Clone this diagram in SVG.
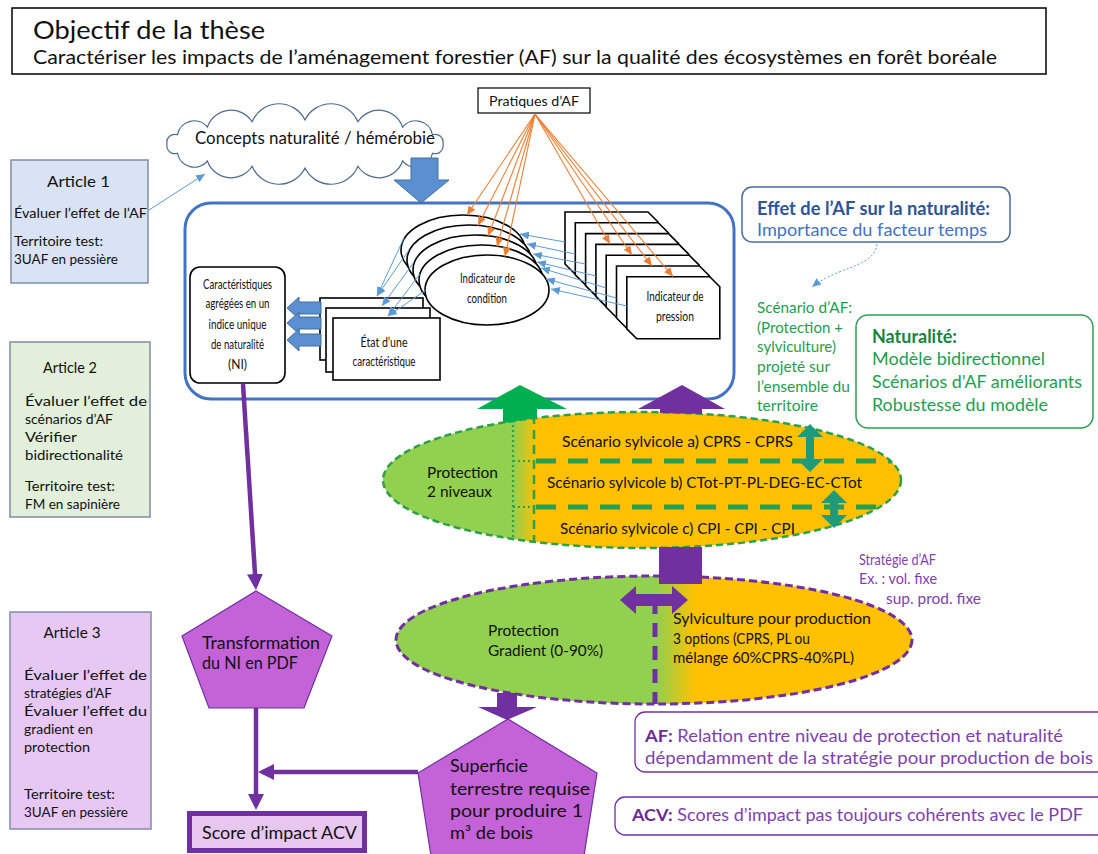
<svg xmlns="http://www.w3.org/2000/svg" width="1098" height="854" viewBox="0 0 1098 854">
<style>
text{font-family:Lato,"Liberation Sans","DejaVu Sans",sans-serif;fill:#111}
.bk{fill:#fff;stroke:#000;stroke-width:1.6}
.art{stroke:#7F8FA6;stroke-width:1.5}
.a{font-size:14px}
.ah{font-size:15px}
.c{font-size:14px}
.bluet{fill:#4472C4;font-size:18px}
.blueb{fill:#2F5597;font-weight:bold}
.grn text{fill:#1E9E50;font-size:15px}
.nat{fill:#1E9E50;font-size:18px}
.natb{fill:#17843F;font-weight:bold}
.pur text{fill:#7F3FAF;font-size:17px}
.purb{fill:#6A2C95;font-weight:bold}
.or{stroke:#ED7D31;stroke-width:1.1;fill:none;marker-end:url(#mO)}
.bl{stroke:#5B9BD5;stroke-width:1;fill:none;marker-end:url(#mB)}
.pl{stroke:#7030A0;stroke-width:4.5;fill:none;marker-end:url(#mP)}
.blk{fill:#5B8FD2;stroke:#41719C;stroke-width:1}
.pent{fill:#C462D8;stroke:#7030A0;stroke-width:1.2}
.e{font-size:15px}
.strat text{fill:#7F3FAF;font-size:15px}
.pt{font-size:17px}
</style>
<defs>
<linearGradient id="g1" gradientUnits="userSpaceOnUse" x1="383" y1="0" x2="901" y2="0"><stop offset="0.251" stop-color="#92D050"/><stop offset="0.297" stop-color="#FFC000"/></linearGradient>
<linearGradient id="g2" gradientUnits="userSpaceOnUse" x1="396" y1="0" x2="912" y2="0"><stop offset="0.505" stop-color="#92D050"/><stop offset="0.58" stop-color="#FFC000"/></linearGradient>
<clipPath id="c1"><ellipse cx="642" cy="480" rx="259" ry="68"/></clipPath>
<clipPath id="c2"><ellipse cx="654" cy="640" rx="258" ry="64"/></clipPath>
<path id="snip" d="M0,0 H83 L93,10 V62 H10 L0,52 Z" fill="#fff" stroke="#000" stroke-width="1.6"/>
<marker id="mO" markerUnits="userSpaceOnUse" markerWidth="9" markerHeight="8" refX="9" refY="4" orient="auto"><path d="M0,0 L9,4 L0,8 Z" fill="#ED7D31"/></marker>
<marker id="mB" markerUnits="userSpaceOnUse" markerWidth="9" markerHeight="8" refX="9" refY="4" orient="auto"><path d="M0,0 L9,4 L0,8 Z" fill="#5B9BD5"/></marker>
<marker id="mP" markerUnits="userSpaceOnUse" markerWidth="16" markerHeight="16" refX="12" refY="8" orient="auto"><path d="M0,0 L16,8 L0,16 Z" fill="#7030A0"/></marker>
</defs>
<rect width="1098" height="854" fill="#fff"/>

<g id="title">
<rect x="12" y="8" width="1034" height="66" fill="#fff" stroke="#000" stroke-width="1.5"/>
<text x="33" y="39" font-size="25" textLength="232" lengthAdjust="spacingAndGlyphs">Objectif de la thèse</text>
<text x="33" y="64" font-size="19" textLength="964" lengthAdjust="spacingAndGlyphs">Caractériser les impacts de l’aménagement forestier (AF) sur la qualité des écosystèmes en forêt boréale</text>
</g>

<g id="pratiques">
<rect x="478" y="88" width="112" height="25" fill="#fff" stroke="#000" stroke-width="1.2"/>
<text x="534" y="105.5" font-size="13" text-anchor="middle" textLength="90" lengthAdjust="spacingAndGlyphs">Pratiques d’AF</text>
</g>

<g id="cloud">
<path d="M443,144 A8,8 0 0 1 432.5,153.2 A17,17 0 0 1 402.6,161 A25,25 0 0 1 357.9,166.2 A29,29 0 0 1 305,168 A29,29 0 0 1 252.1,166.2 A25,25 0 0 1 207.4,161 A17,17 0 0 1 177.5,153.2 A8,8 0 0 1 167,144 A8,8 0 0 1 177.5,134.8 A17,17 0 0 1 207.4,127 A25,25 0 0 1 252.1,121.8 A29,29 0 0 1 305,120 A29,29 0 0 1 357.9,121.8 A25,25 0 0 1 402.6,127 A17,17 0 0 1 432.5,134.8 A8,8 0 0 1 443,144 Z" fill="#fff" stroke="#4F6A8F" stroke-width="1.2"/>
<text x="315" y="144" font-size="17" text-anchor="middle" textLength="240" lengthAdjust="spacingAndGlyphs">Concepts naturalité / hémérobie</text>
</g>

<g id="main-box">
<rect x="185" y="203" width="549" height="196" rx="26" fill="#fff" stroke="#4472C4" stroke-width="3"/>
</g>

<g id="ni" class="c">
<rect x="190" y="267" width="95" height="116" rx="10" class="bk"/>
<text x="237.5" y="289" text-anchor="middle" textLength="69" lengthAdjust="spacingAndGlyphs">Caractéristiques</text>
<text x="237.5" y="308" text-anchor="middle" textLength="64" lengthAdjust="spacingAndGlyphs">agrégées en un</text>
<text x="237.5" y="329" text-anchor="middle" textLength="58" lengthAdjust="spacingAndGlyphs">indice unique</text>
<text x="237.5" y="349" text-anchor="middle" textLength="53" lengthAdjust="spacingAndGlyphs">de naturalité</text>
<text x="237.5" y="369" text-anchor="middle" textLength="19" lengthAdjust="spacingAndGlyphs">(NI)</text>
</g>

<g id="etat" class="c">
<rect x="320" y="298" width="103" height="62" class="bk"/>
<rect x="326" y="308" width="104" height="64" class="bk"/>
<rect x="333" y="318" width="107" height="62" class="bk"/>
<text x="384" y="347" text-anchor="middle" textLength="47" lengthAdjust="spacingAndGlyphs">État d’une</text>
<text x="384" y="366" text-anchor="middle" textLength="63" lengthAdjust="spacingAndGlyphs">caractéristique</text>
</g>

<g id="condition" class="c">
<ellipse cx="463" cy="250" rx="62" ry="35" class="bk"/>
<ellipse cx="469" cy="260" rx="62" ry="35" class="bk"/>
<ellipse cx="475" cy="270" rx="62" ry="35" class="bk"/>
<ellipse cx="481" cy="280" rx="62" ry="35" class="bk"/>
<ellipse cx="487" cy="290" rx="62" ry="35" class="bk"/>
<text x="487.5" y="283" text-anchor="middle" textLength="55" lengthAdjust="spacingAndGlyphs">Indicateur de</text>
<text x="487" y="303" text-anchor="middle" textLength="40" lengthAdjust="spacingAndGlyphs">condition</text>
</g>

<g id="pression" class="c">
<use href="#snip" x="565" y="212"/>
<use href="#snip" x="575.3" y="222.8"/>
<use href="#snip" x="585.6" y="233.6"/>
<use href="#snip" x="595.9" y="244.4"/>
<use href="#snip" x="606.2" y="255.2"/>
<use href="#snip" x="616.5" y="266"/>
<use href="#snip" x="626.8" y="276.8"/>
<text x="675" y="301" text-anchor="middle" textLength="57" lengthAdjust="spacingAndGlyphs">Indicateur de</text>
<text x="675" y="321" text-anchor="middle" textLength="38" lengthAdjust="spacingAndGlyphs">pression</text>
</g>

<g id="effet">
<rect x="742" y="187" width="268" height="55" rx="10" fill="#fff" stroke="#4A6A9F" stroke-width="1.5"/>
<text x="757" y="215" class="bluet blueb" textLength="233" lengthAdjust="spacingAndGlyphs">Effet de l’AF sur la naturalité:</text>
<text x="757" y="236" class="bluet" textLength="230" lengthAdjust="spacingAndGlyphs">Importance du facteur temps</text>
</g>

<g id="scenario-af" class="grn">
<text x="757" y="313" textLength="95" lengthAdjust="spacingAndGlyphs">Scénario d’AF:</text>
<text x="757" y="333" textLength="86" lengthAdjust="spacingAndGlyphs">(Protection +</text>
<text x="757" y="352" textLength="79" lengthAdjust="spacingAndGlyphs">sylviculture)</text>
<text x="757" y="372" textLength="73" lengthAdjust="spacingAndGlyphs">projeté sur</text>
<text x="757" y="392" textLength="93" lengthAdjust="spacingAndGlyphs">l’ensemble du</text>
<text x="757" y="411" textLength="61" lengthAdjust="spacingAndGlyphs">territoire</text>
</g>

<g id="naturalite">
<rect x="856" y="315" width="237" height="113" rx="12" fill="#fff" stroke="#2E9E52" stroke-width="1.5"/>
<text x="872" y="343" class="nat natb" textLength="85" lengthAdjust="spacingAndGlyphs">Naturalité:</text>
<text x="872" y="365" class="nat" textLength="173" lengthAdjust="spacingAndGlyphs">Modèle bidirectionnel</text>
<text x="872" y="388" class="nat" textLength="210" lengthAdjust="spacingAndGlyphs">Scénarios d’AF améliorants</text>
<text x="872" y="411" class="nat" textLength="176" lengthAdjust="spacingAndGlyphs">Robustesse du modèle</text>
</g>

<g id="article1" class="a">
<rect x="11" y="160" width="137" height="123" fill="#DAE3F3" class="art"/>
<text x="78.5" y="187" class="ah" text-anchor="middle" textLength="63" lengthAdjust="spacingAndGlyphs">Article 1</text>
<text x="14" y="218" textLength="133" lengthAdjust="spacingAndGlyphs">Évaluer l’effet de l’AF</text>
<text x="14" y="246" textLength="89" lengthAdjust="spacingAndGlyphs">Territoire test:</text>
<text x="14" y="264" textLength="104" lengthAdjust="spacingAndGlyphs">3UAF en pessière</text>
</g>

<g id="article2" class="a">
<rect x="10" y="342" width="140" height="175" fill="#E2EFDA" class="art"/>
<text x="70" y="373" class="ah" text-anchor="middle" textLength="54" lengthAdjust="spacingAndGlyphs">Article 2</text>
<text x="25" y="406" textLength="122" lengthAdjust="spacingAndGlyphs">Évaluer l’effet de</text>
<text x="25" y="424" textLength="88" lengthAdjust="spacingAndGlyphs">scénarios d’AF</text>
<text x="25" y="442" textLength="52" lengthAdjust="spacingAndGlyphs">Vérifier</text>
<text x="25" y="460" textLength="98" lengthAdjust="spacingAndGlyphs">bidirectionalité</text>
<text x="25" y="491" textLength="90" lengthAdjust="spacingAndGlyphs">Territoire test:</text>
<text x="25" y="509" textLength="95" lengthAdjust="spacingAndGlyphs">FM en sapinière</text>
</g>

<g id="article3" class="a">
<rect x="10" y="612" width="141" height="217" fill="#E6C8F2" class="art"/>
<text x="72" y="638" class="ah" text-anchor="middle" textLength="57" lengthAdjust="spacingAndGlyphs">Article 3</text>
<text x="24" y="680" textLength="123" lengthAdjust="spacingAndGlyphs">Évaluer l’effet de</text>
<text x="24" y="698" textLength="88" lengthAdjust="spacingAndGlyphs">stratégies d’AF</text>
<text x="24" y="716" textLength="123" lengthAdjust="spacingAndGlyphs">Évaluer l’effet du</text>
<text x="24" y="734" textLength="69" lengthAdjust="spacingAndGlyphs">gradient en</text>
<text x="24" y="752" textLength="66" lengthAdjust="spacingAndGlyphs">protection</text>
<text x="24" y="799" textLength="91" lengthAdjust="spacingAndGlyphs">Territoire test:</text>
<text x="24" y="817" textLength="104" lengthAdjust="spacingAndGlyphs">3UAF en pessière</text>
</g>

<g id="scenarios-ellipse" class="e">
<ellipse cx="642" cy="480" rx="259" ry="68" fill="url(#g1)"/>
<g clip-path="url(#c1)" fill="none">
<line x1="513" y1="400" x2="513" y2="560" stroke="#2EA04A" stroke-width="2.2" stroke-dasharray="2 3"/>
<line x1="534" y1="400" x2="534" y2="560" stroke="#2EA04A" stroke-width="2.5" stroke-dasharray="9 6"/>
<line x1="513" y1="461" x2="534" y2="461" stroke="#2EA04A" stroke-width="2.2" stroke-dasharray="2 3"/>
<line x1="513" y1="507" x2="534" y2="507" stroke="#2EA04A" stroke-width="2.2" stroke-dasharray="2 3"/>
<line x1="536" y1="461" x2="910" y2="461" stroke="#26A04E" stroke-width="5" stroke-dasharray="20 12"/>
<line x1="536" y1="507" x2="910" y2="507" stroke="#26A04E" stroke-width="5" stroke-dasharray="20 12"/>
</g>
<ellipse cx="642" cy="480" rx="259" ry="68" fill="none" stroke="#2EA04A" stroke-width="2.5" stroke-dasharray="7 4"/>
<text x="427" y="478" textLength="71" lengthAdjust="spacingAndGlyphs">Protection</text>
<text x="427" y="497" textLength="65" lengthAdjust="spacingAndGlyphs">2 niveaux</text>
<text x="562" y="447" textLength="231" lengthAdjust="spacingAndGlyphs">Scénario sylvicole a) CPRS - CPRS</text>
<text x="547" y="488" textLength="315" lengthAdjust="spacingAndGlyphs">Scénario sylvicole b) CTot-PT-PL-DEG-EC-CTot</text>
<text x="560" y="534" textLength="235" lengthAdjust="spacingAndGlyphs">Scénario sylvicole c) CPI - CPI - CPI</text>
</g>

<g id="strategie-ellipse" class="e">
<ellipse cx="654" cy="640" rx="258" ry="64" fill="url(#g2)"/>
<line x1="655" y1="600" x2="655" y2="712" stroke="#7030A0" stroke-width="5" stroke-dasharray="14 9" clip-path="url(#c2)"/>
<ellipse cx="654" cy="640" rx="258" ry="64" fill="none" stroke="#7030A0" stroke-width="3" stroke-dasharray="8 4"/>
<text x="488" y="636" textLength="71" lengthAdjust="spacingAndGlyphs">Protection</text>
<text x="488" y="656" textLength="115" lengthAdjust="spacingAndGlyphs">Gradient (0-90%)</text>
<text x="673" y="624" textLength="198" lengthAdjust="spacingAndGlyphs">Sylviculture pour production</text>
<text x="673" y="644" textLength="137" lengthAdjust="spacingAndGlyphs">3 options (CPRS, PL ou</text>
<text x="673" y="663" textLength="181" lengthAdjust="spacingAndGlyphs">mélange 60%CPRS-40%PL)</text>
</g>

<g id="strategie-af" class="strat">
<text x="859" y="565" textLength="77" lengthAdjust="spacingAndGlyphs">Stratégie d’AF</text>
<text x="859" y="584" textLength="78" lengthAdjust="spacingAndGlyphs">Ex. : vol. fixe</text>
<text x="886" y="604" textLength="95" lengthAdjust="spacingAndGlyphs">sup. prod. fixe</text>
</g>

<g id="transformation" class="pt">
<polygon points="256,591 332,636 304,708 209,708 182,636" class="pent"/>
<text x="202" y="649" font-size="18" textLength="118" lengthAdjust="spacingAndGlyphs">Transformation</text>
<text x="202" y="669" font-size="18" textLength="96" lengthAdjust="spacingAndGlyphs">du NI en PDF</text>
</g>

<g id="superficie" class="pt">
<polygon points="508,719 597,773 581,875 434,875 418,773" class="pent"/>
<text x="450" y="772" textLength="78" lengthAdjust="spacingAndGlyphs">Superficie</text>
<text x="450" y="795" textLength="140" lengthAdjust="spacingAndGlyphs">terrestre requise</text>
<text x="450" y="817" textLength="133" lengthAdjust="spacingAndGlyphs">pour produire 1</text>
<text x="450" y="839" textLength="83" lengthAdjust="spacingAndGlyphs">m³ de bois</text>
</g>

<g id="score" class="pt">
<rect x="189.5" y="813.5" width="175" height="37" fill="#E7C6F0" stroke="#7030A0" stroke-width="5"/>
<text x="202" y="839" textLength="155" lengthAdjust="spacingAndGlyphs">Score d’impact ACV</text>
</g>

<g id="af-result" class="pur">
<rect x="635" y="712" width="480" height="60" rx="10" fill="#fff" stroke="#7030A0" stroke-width="1.3"/>
<text x="645" y="742" textLength="418" lengthAdjust="spacingAndGlyphs"><tspan class="purb">AF:</tspan> Relation entre niveau de protection et naturalité</text>
<text x="645" y="764" textLength="448" lengthAdjust="spacingAndGlyphs">dépendamment de la stratégie pour production de bois</text>
</g>

<g id="acv-result" class="pur">
<rect x="615" y="797" width="500" height="38" rx="10" fill="#fff" stroke="#7030A0" stroke-width="1.3"/>
<text x="632" y="821" textLength="451" lengthAdjust="spacingAndGlyphs"><tspan class="purb">ACV:</tspan> Scores d’impact pas toujours cohérents avec le PDF</text>
</g>

<g id="connectors">
<line x1="535" y1="114" x2="467" y2="215" class="or"/>
<line x1="535" y1="114" x2="478" y2="225.5" class="or"/>
<line x1="535" y1="114" x2="488" y2="236" class="or"/>
<line x1="535" y1="114" x2="497" y2="246.5" class="or"/>
<line x1="535" y1="114" x2="505" y2="256.5" class="or"/>
<line x1="535" y1="114" x2="610" y2="244" class="or"/>
<line x1="535" y1="114" x2="632" y2="255" class="or"/>
<line x1="535" y1="114" x2="652" y2="266" class="or"/>
<line x1="535" y1="114" x2="673" y2="276.5" class="or"/>
<line x1="565" y1="242" x2="520" y2="234" class="bl"/>
<line x1="575.3" y1="254" x2="527" y2="244" class="bl"/>
<line x1="585.6" y1="264" x2="533" y2="254" class="bl"/>
<line x1="595.9" y1="276" x2="537" y2="262" class="bl"/>
<line x1="606.2" y1="288" x2="541" y2="268" class="bl"/>
<line x1="616.5" y1="298" x2="546" y2="279" class="bl"/>
<line x1="626.8" y1="306" x2="551" y2="289" class="bl"/>
<line x1="404" y1="238" x2="377" y2="296" class="bl"/>
<line x1="409" y1="250" x2="377" y2="296" class="bl"/>
<line x1="414" y1="262" x2="382" y2="306" class="bl"/>
<line x1="420" y1="274" x2="388" y2="316" class="bl"/>
<line x1="426" y1="290" x2="388" y2="316" class="bl"/>
<polygon points="287,308 299,297 299,302 321,302 321,314 299,314 299,319" class="blk"/>
<polygon points="287,323 299,312 299,317 321,317 321,329 299,329 299,334" class="blk"/>
<polygon points="287,340 299,329 299,334 321,334 321,346 299,346 299,351" class="blk"/>
<polygon points="421,203 449,180 438,180 438,158 411,158 411,180 394,180" class="blk"/>
<line x1="149" y1="210" x2="205" y2="174" class="bl"/>
<path d="M877,244 C874,268 838,266 812,287" class="bl" stroke-dasharray="2 2"/>
<polygon points="520,385 567,409 537,409 537,418 503,423 503,409 477,409" fill="#00B050"/>
<polygon points="682,385 725,409 702,409 702,414 660,413 660,409 638,409" fill="#7030A0"/>
<polygon points="810,424 823,437 814,437 814,459 823,459 810,472 797,459 806,459 806,437 797,437" fill="#1F9A7A"/>
<polygon points="834,490 847,503 838,503 838,515 847,515 834,528 821,515 830,515 830,503 821,503" fill="#1F9A7A"/>
<rect x="659" y="547" width="43" height="37" fill="#7030A0"/>
<polygon points="620,600 636,586 636,594 672,594 672,586 688,600 672,614 672,606 636,606 636,614" fill="#7030A0"/>
<polygon points="507,720 537,707 517,707 517,693 497,693 497,707 478,707" fill="#7030A0"/>
<line x1="243" y1="384" x2="255.75" y2="586" class="pl"/>
<line x1="256" y1="708" x2="256" y2="806" class="pl"/>
<line x1="418" y1="772" x2="262" y2="772" class="pl"/>
</g>
</svg>
